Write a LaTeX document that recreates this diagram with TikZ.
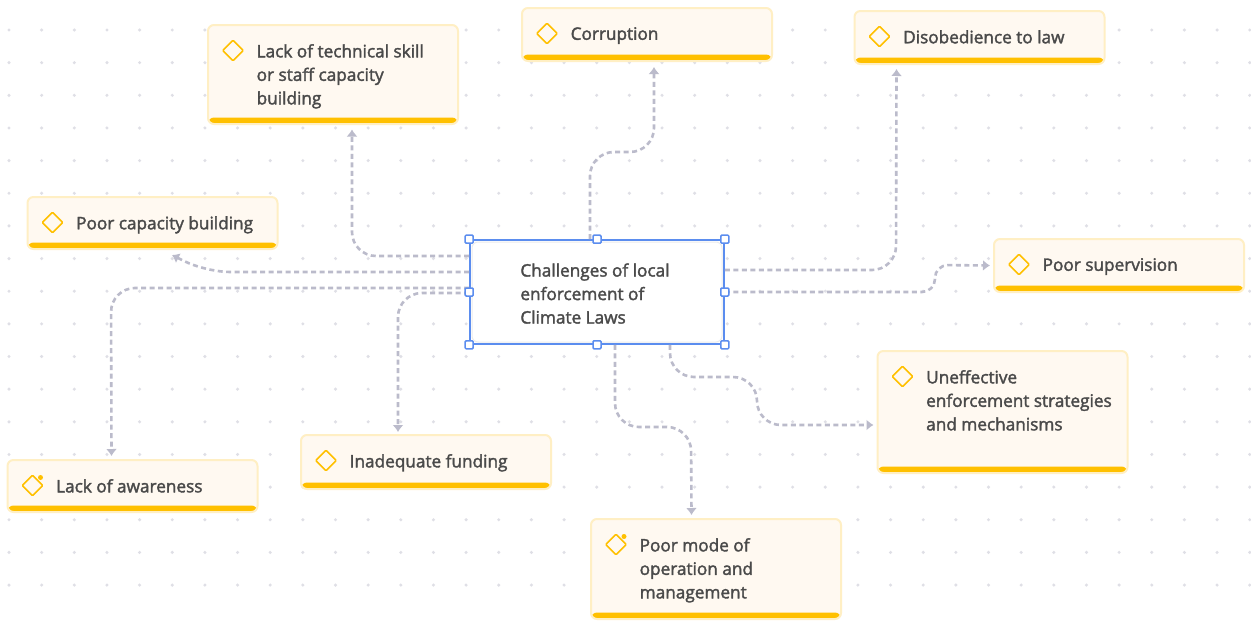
\documentclass[tikz,border=0pt]{standalone}
\usepackage{fontspec}
\setmainfont{Open Sans}[FakeBold=2]
\usetikzlibrary{arrows.meta,positioning}
\definecolor{grid-gray}{HTML}{DFDFE6}
\definecolor{link-gray}{HTML}{BBBBCB}
\definecolor{card-fill}{HTML}{FFF9F1}
\definecolor{card-edge}{HTML}{FFEFC4}
\definecolor{card-bar}{HTML}{FFC000}
\definecolor{text-gray}{HTML}{4A4A4A}
\definecolor{select-blue}{HTML}{5B8DEF}
\tikzset{
	card/.style={draw=card-edge,fill=card-fill,line width=2pt,rounded corners=6pt,minimum width=250pt,inner sep=0pt,
		path picture={\fill [card-bar] ([yshift=6.5pt]path picture bounding box.south west) rectangle (path picture bounding box.south east);}},
	cardtext/.style={anchor=north west,align=left,inner sep=0pt,text=text-gray,font=\fontsize{17.2}{23.5}\selectfont},
	cardicon/.style={draw=card-bar,line width=1.5pt,rounded corners=1pt,rotate=45,minimum size=14.5pt,inner sep=0pt},
	carddot/.style={fill=card-bar,circle,minimum size=5pt,inner sep=0pt},
	link/.style={draw=link-gray,line width=2.6pt,dash pattern=on 5pt off 3.5pt,rounded corners=24pt,-{Latex[length=7pt,width=11pt]}},
	handle/.style={draw=select-blue,fill=white,line width=1.5pt,rounded corners=1pt,minimum size=8pt,inner sep=0pt},
}
\begin{document}
\begin{tikzpicture}[x=1pt,y=-1pt]
	\useasboundingbox [fill=white] (0,0) rectangle (1251,621);
	\foreach \i in {0,...,38}{							% reference grid
		\foreach \j in {0,...,17}{
			\fill [grid-gray] (9+32.65*\i,30+32.65*\j) circle (1.7pt);
		}
	}
	% cards
	\node [card,minimum height=99pt] (skill) at (333,74.5) {};
	\node [card,minimum height=53pt] (corruption) at (647,34.5) {};
	\node [card,minimum height=53pt] (disobedience) at (979.5,37.5) {};
	\node [card,minimum height=52pt] (capacity) at (152.5,223) {};
	\node [card,minimum height=53pt] (supervision) at (1119,265.5) {};
	\node [card,minimum height=122pt] (strategies) at (1002.5,412) {};
	\node [card,minimum height=52pt] (awareness) at (132.5,486) {};
	\node [card,minimum height=54pt] (funding) at (426,462) {};
	\node [card,minimum height=100pt] (mode) at (716,569) {};
	% card labels
	\node [cardtext] (skilltext) at ([shift={(49.5pt,-20pt)}]skill.north west) {Lack of technical skill\\or staff capacity\\building};
	\node [cardtext] (corruptiontext) at ([shift={(49.5pt,-20pt)}]corruption.north west) {Corruption};
	\node [cardtext] (disobediencetext) at ([shift={(49.5pt,-20pt)}]disobedience.north west) {Disobedience to law};
	\node [cardtext] (capacitytext) at ([shift={(49.5pt,-20pt)}]capacity.north west) {Poor capacity building};
	\node [cardtext] (supervisiontext) at ([shift={(49.5pt,-20pt)}]supervision.north west) {Poor supervision};
	\node [cardtext] (strategiestext) at ([shift={(49.5pt,-20pt)}]strategies.north west) {Uneffective\\enforcement strategies\\and mechanisms};
	\node [cardtext] (awarenesstext) at ([shift={(49.5pt,-20pt)}]awareness.north west) {Lack of awareness};
	\node [cardtext] (fundingtext) at ([shift={(49.5pt,-20pt)}]funding.north west) {Inadequate funding};
	\node [cardtext] (modetext) at ([shift={(49.5pt,-20pt)}]mode.north west) {Poor mode of\\operation and\\management};
	% card icons
	\foreach \c in {skill,corruption,disobedience,capacity,supervision,strategies,awareness,funding,mode}{
		\node [cardicon] (\c icon) at ([shift={(26pt,-26.5pt)}]\c.north west) {};
	}
	\node [carddot] (awarenessdot) at ([shift={(8pt,8pt)}]awarenessicon.center) {};
	\node [carddot] (modedot) at ([shift={(8pt,8pt)}]modeicon.center) {};
	% centre
	\node [draw=gray!15,fill=white,line width=1pt,rounded corners=6pt,minimum width=250pt,minimum height=100pt,inner sep=0pt] (centrecard) at (597,292) {};
	\node [draw=select-blue,line width=1.6pt,minimum width=254pt,minimum height=104pt,inner sep=0pt] (centre) at (597,292) {};
	\node [cardtext] (centretext) at ([shift={(51pt,-24pt)}]centre.north west) {Challenges of local\\enforcement of\\Climate Laws};
	% connectors
	\draw [link] ([yshift=36pt]centre.west) -- (352,256) -- ([shift={(19pt,-4.5pt)}]skill.south);
	\draw [link] ([xshift=-7pt]centre.north) -- (590,152) -- (654,152) -- ([shift={(7pt,-5pt)}]corruption.south);
	\draw [link] ([yshift=22pt]centre.east) -- (896,270) -- ([shift={(-83pt,-4pt)}]disobedience.south);
	\draw [link] ([yshift=20pt]centre.west) -- (206,272) -- ([shift={(19.5pt,-5pt)}]capacity.south);
	\draw [link,rounded corners=13pt] (centre.east) -- (935,292) -- (935,265) -- ([xshift=-3pt]supervision.west);
	\draw [link] ([yshift=4pt]centre.west) -- (111,288) -- ([shift={(-21pt,3pt)}]awareness.north);
	\draw [link] ([yshift=-1pt]centre.west) -- (398,293) -- ([shift={(-28pt,2pt)}]funding.north);
	\draw [link] ([xshift=18pt]centre.south) -- (615,427) -- (691,427) -- ([shift={(-24.5pt,3pt)}]mode.north);
	\draw [link] ([xshift=73pt]centre.south) -- (670,377) -- (757,377) -- (757,425) -- ([shift={(-3pt,-13pt)}]strategies.west);
	% selection handles
	\foreach \a in {north west,north,north east,east,south east,south,south west,west}{
		\node [handle] (handle \a) at (centre.\a) {};
	}
\end{tikzpicture}
\end{document}
